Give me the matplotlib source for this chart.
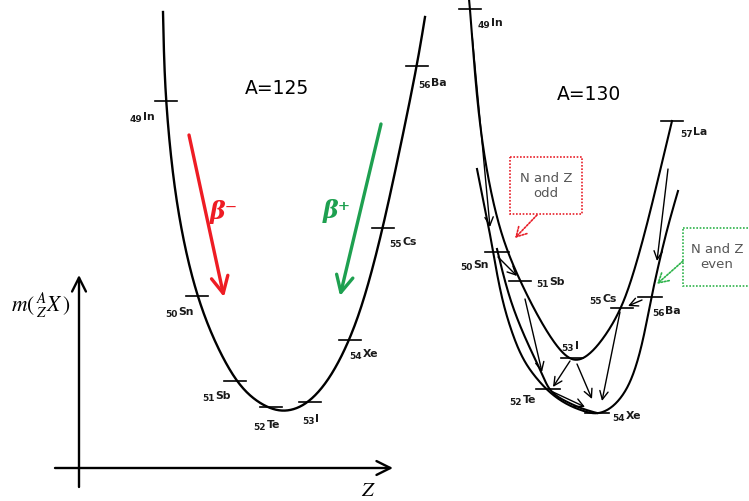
import numpy as np
import matplotlib
matplotlib.use("Agg")
import matplotlib.pyplot as plt
from matplotlib.patches import FancyArrowPatch, Rectangle

# ---------------- data (pixel frame 749x502) ----------------
# A = 125 mass parabola
A125_names = ["49", "50", "51", "52", "53", "54", "55", "56"]
A125_sym = ["In", "Sn", "Sb", "Te", "I", "Xe", "Cs", "Ba"]
A125_x = [166, 197, 235, 271, 310, 350, 383, 417]
A125_y = [102, 297, 382, 408, 403, 341, 229, 67]
A125_lab_x = [145, 181, 218, 269, 318, 365, 405, 434]
A125_lab_y = [118, 313, 397, 426, 420, 355, 243, 84]
A125_curve_x = [163, 164, 166, 170, 176, 185, 197, 213, 235, 255, 275, 292, 310, 330, 350,
                366, 383, 400, 417, 425]
A125_curve_y = [13, 60, 102, 150, 200, 250, 297, 340, 382, 402, 412, 412, 403, 380, 341,
                295, 229, 150, 67, 18]

# A = 130, odd-odd parabola (upper)
odd_names = ["49", "51", "53", "55", "57"]
odd_sym = ["In", "Sb", "I", "Cs", "La"]
odd_x = [470, 520, 572, 622, 672]
odd_y = [10, 282, 359, 309, 122]
odd_lab_x = [493, 552, 577, 605, 696]
odd_lab_y = [24, 283, 347, 300, 133]
odd_curve_x = [469, 470, 473, 477, 483, 492, 504, 520, 537, 555, 572, 588, 605, 622, 635,
               648, 660, 672]
odd_curve_y = [0, 10, 50, 100, 150, 200, 245, 282, 316, 346, 364, 358, 338, 309, 270,
               222, 172, 122]

# A = 130, even-even parabola (lower)
even_names = ["50", "52", "54", "56"]
even_sym = ["Sn", "Te", "Xe", "Ba"]
even_x = [497, 548, 597, 650]
even_y = [253, 390, 414, 298]
even_lab_x = [476, 525, 628, 668]
even_lab_y = [266, 401, 417, 312]
even_curve_x = [477, 484, 491, 496, 502, 509, 518, 527, 537, 547, 558, 570, 583, 597, 613,
                628, 638, 645, 651, 658, 667, 678]
even_curve_y = [170, 205, 240, 270, 300, 325, 350, 367, 380, 391, 400, 407, 412, 416, 409,
                390, 362, 332, 300, 268, 230, 192]
inner_curve_x = [497, 503, 510, 518, 527, 536, 543, 548, 556, 567, 580, 593, 597]
inner_curve_y = [250, 275, 300, 322, 343, 362, 377, 389, 397, 403, 409, 413, 414]

# decay arrows in the A = 130 diagram (start x, start y, end x, end y)
decay_x0 = [472, 498, 525, 570, 577, 553, 620, 668, 642]
decay_y0 = [35, 258, 300, 362, 365, 393, 313, 170, 301]
decay_x1 = [490, 517, 542, 553, 592, 585, 602, 657, 628]
decay_y1 = [228, 277, 373, 388, 400, 408, 402, 262, 307]

# ---------------- helpers ----------------
def smooth(xs, ys, n=25):
    """clamped uniform cubic B-spline using the read points as control points"""
    p = np.column_stack([xs, ys]).astype(float)
    p = np.vstack([p[0], p[0], p, p[-1], p[-1]])
    M = np.array([[-1, 3, -3, 1], [3, -6, 3, 0], [-3, 0, 3, 0], [1, 4, 1, 0]]) / 6.0
    t = np.linspace(0, 1, n)
    T = np.column_stack([t ** 3, t ** 2, t, np.ones_like(t)])
    out = [T @ M @ p[i:i + 4] for i in range(len(p) - 3)]
    out = np.vstack(out)
    return out[:, 0], out[:, 1]

def arrow(ax, x0, y0, x1, y1, color="black", lw=1.0, style="->", hl=5, hw=3, ls="-"):
    a = FancyArrowPatch((x0, y0), (x1, y1),
                        arrowstyle=f"{style},head_length={hl},head_width={hw}",
                        color=color, lw=lw, linestyle=ls, shrinkA=0, shrinkB=0,
                        mutation_scale=1)
    ax.add_patch(a)

def label(ax, x, y, num, sym):
    b = x - 3
    ax.text(b, y + 1.5, num, fontsize=6.5, ha="right", va="center", weight="bold",
            family="DejaVu Sans", color="#1a1a1a")
    ax.text(b + 0.5, y - 0.5, sym, fontsize=7.8, ha="left", va="center", weight="bold",
            family="DejaVu Sans", color="#1a1a1a")

# ---------------- figure ----------------
plt.rcParams["mathtext.fontset"] = "stix"
fig = plt.figure(figsize=(7.49, 5.02), dpi=100)
ax = fig.add_axes([0, 0, 1, 1])
ax.set_xlim(0, 749)
ax.set_ylim(502, 0)
ax.axis("off")

# axes of the sketch
arrow(ax, 79, 488, 79, 276, lw=1.7, hl=10, hw=5)
arrow(ax, 55, 469, 393, 469, lw=1.7, hl=10, hw=5)
ax.text(41, 305, r"$m(\,{}^{A}_{Z}X\,)$", fontsize=15.5, ha="center", va="center")
ax.text(368, 490, r"$Z$", fontsize=15, ha="center", va="center")

# A = 125
cx, cy = smooth(A125_curve_x, A125_curve_y)
ax.plot(cx, cy, color="black", lw=1.7)
for x, y, n, s, lx, ly in zip(A125_x, A125_y, A125_names, A125_sym, A125_lab_x, A125_lab_y):
    ax.plot([x - 11, x + 11], [y, y], color="black", lw=1.2)
    label(ax, lx, ly, n, s)
ax.text(277, 88, "A=125", fontsize=13.5, ha="center", va="center", family="DejaVu Sans")

arrow(ax, 189, 136, 224, 298, color="#ee1c24", lw=2.4, hl=12, hw=6)
arrow(ax, 381, 125, 340, 297, color="#1ea050", lw=2.4, hl=12, hw=6)
ax.text(224, 212, "\u03b2\u207b", fontsize=17, color="#ee1c24", ha="center", va="center",
        family="DejaVu Serif", style="italic", weight="bold")
ax.text(337, 211, "\u03b2\u207a", fontsize=17, color="#1ea050", ha="center", va="center",
        family="DejaVu Serif", style="italic", weight="bold")

# A = 130
for xs, ys in [(odd_curve_x, odd_curve_y), (even_curve_x, even_curve_y),
               (inner_curve_x, inner_curve_y)]:
    cx, cy = smooth(xs, ys)
    ax.plot(cx, cy, color="black", lw=1.5)
for x, y, n, s, lx, ly in zip(odd_x, odd_y, odd_names, odd_sym, odd_lab_x, odd_lab_y):
    ax.plot([x - 11, x + 11], [y, y], color="black", lw=1.2)
    label(ax, lx, ly, n, s)
for x, y, n, s, lx, ly in zip(even_x, even_y, even_names, even_sym, even_lab_x, even_lab_y):
    ax.plot([x - 12, x + 12], [y, y], color="black", lw=1.2)
    label(ax, lx, ly, n, s)
for x0, y0, x1, y1 in zip(decay_x0, decay_y0, decay_x1, decay_y1):
    arrow(ax, x0, y0, x1, y1, lw=1.0, hl=6, hw=3)
ax.text(589, 95, "A=130", fontsize=13.5, ha="center", va="center", family="DejaVu Sans")

# annotation boxes
ax.add_patch(Rectangle((510, 158), 72, 57, fill=True, facecolor="white",
                       edgecolor="#e8202a", lw=1.2, linestyle=(0, (1, 1))))
ax.text(546, 186, "N and Z\nodd", fontsize=9.5, color="#555555", ha="center", va="center",
        family="DejaVu Sans", linespacing=1.2)
arrow(ax, 537, 216, 515, 239, color="#e8202a", lw=1.2, hl=7, hw=4, ls=(0, (1, 1)))

ax.add_patch(Rectangle((683, 229), 70, 58, fill=True, facecolor="white",
                       edgecolor="#2db34a", lw=1.2, linestyle=(0, (1, 1))))
ax.text(717, 257, "N and Z\neven", fontsize=9.5, color="#555555", ha="center", va="center",
        family="DejaVu Sans", linespacing=1.2)
arrow(ax, 683, 262, 657, 285, color="#2db34a", lw=1.2, hl=7, hw=4, ls=(0, (1, 1)))

fig.savefig("out.png", dpi=100, facecolor="white")
